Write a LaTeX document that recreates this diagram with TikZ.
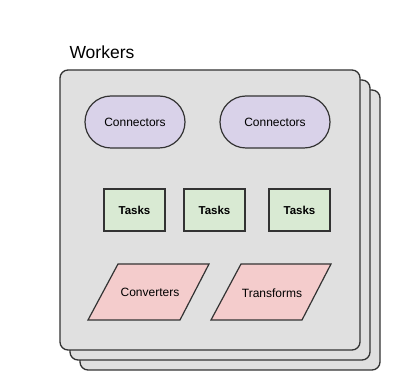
\documentclass[tikz,border=0pt]{standalone}
\usepackage{fontspec}
\setmainfont{Liberation Sans}
\usepackage{tikz}
\usepackage{xcolor}
\definecolor{wkfill}{HTML}{E0E0E0}
\definecolor{wkline}{HTML}{333333}
\definecolor{connfill}{HTML}{D9D2E9}
\definecolor{taskfill}{HTML}{D9EAD3}
\definecolor{convfill}{HTML}{F4CCCC}

\begin{document}
\begin{tikzpicture}[x=1pt, y=-1pt,
    worker/.style={draw=wkline, fill=wkfill, line width=1.3pt, rounded corners=8pt},
    conn/.style={draw=wkline, fill=connfill, line width=1.2pt, rounded corners=26pt,
        minimum height=52pt, font=\fontsize{12}{14}\selectfont},
    taskbox/.style={draw=wkline, fill=taskfill, line width=1.2pt,
        minimum width=61pt, minimum height=42pt, font=\fontsize{11.5}{14}\selectfont\bfseries},
    pgram/.style={draw=wkline, fill=convfill, line width=1.2pt},
    label/.style={font=\fontsize{12}{14}\selectfont}]
    \useasboundingbox (0,0) rectangle (400,390);
    % stacked worker cards
    \draw[worker] (80,90) rectangle (380,370);
    \draw[worker] (70,80) rectangle (370,360);
    \draw[worker] (60,70) rectangle (360,350);
    \node[anchor=west, font=\fontsize{17.5}{20}\selectfont] (workers) at (66,52) {Workers};
    % connectors
    \node[conn, minimum width=100pt] (conn1) at (135,122) {Connectors};
    \node[conn, minimum width=110pt] (conn2) at (275,122) {Connectors};
    % tasks
    \node[taskbox] (task1) at (134.5,210) {Tasks};
    \node[taskbox] (task2) at (214.5,210) {Tasks};
    \node[taskbox] (task3) at (299.5,210) {Tasks};
    % converters and transforms
    \draw[pgram] (118,264) -- (209,264) -- (180,320) -- (88,320) -- cycle;
    \draw[pgram] (241,264) -- (331,264) -- (302,320) -- (211,320) -- cycle;
    \node[label] (conv) at (150,292) {Converters};
    \node[label] (trans) at (272,293) {Transforms};
\end{tikzpicture}
\end{document}
